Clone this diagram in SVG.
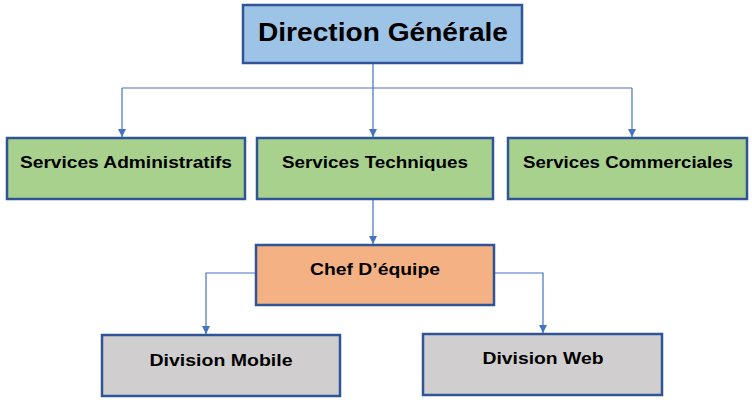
<svg xmlns="http://www.w3.org/2000/svg" width="752" height="400" viewBox="0 0 752 400">
<style>
.box{stroke:#2F5597;stroke-width:2.5}
.t{font-family:"Liberation Sans",Arial,sans-serif;font-weight:bold;fill:#000;text-anchor:middle}
.c{fill:none;stroke:#4472C4;stroke-width:1.2}
</style>
<defs>
<marker id="ah" viewBox="0 0 10 10" refX="10" refY="5" markerWidth="8" markerHeight="8" markerUnits="userSpaceOnUse" orient="auto">
<path d="M0,0 L10,5 L0,10 Z" fill="#4472C4"/>
</marker>
</defs>
<rect width="752" height="400" fill="#fff"/>
<g id="connectors">
<path class="c" d="M373,63 V137" marker-end="url(#ah)"/>
<path class="c" d="M122,88 H632"/>
<path class="c" d="M122,88 V137" marker-end="url(#ah)"/>
<path class="c" d="M632,88 V137" marker-end="url(#ah)"/>
<path class="c" d="M373,199 V244" marker-end="url(#ah)"/>
<path class="c" d="M256,273 H206 V334" marker-end="url(#ah)"/>
<path class="c" d="M494,273 H543 V333" marker-end="url(#ah)"/>
</g>
<g id="direction">
<rect class="box" x="243" y="5" width="279" height="58" fill="#9DC3E6"/>
<text class="t" x="383" y="41" font-size="26" textLength="250" lengthAdjust="spacingAndGlyphs">Direction Générale</text>
</g>
<g id="admin">
<rect class="box" x="7" y="138" width="238" height="61" fill="#A9D18E"/>
<text class="t" x="126" y="168" font-size="17" textLength="212" lengthAdjust="spacingAndGlyphs">Services Administratifs</text>
</g>
<g id="tech">
<rect class="box" x="257" y="138" width="236" height="61" fill="#A9D18E"/>
<text class="t" x="375" y="168" font-size="17" textLength="186" lengthAdjust="spacingAndGlyphs">Services Techniques</text>
</g>
<g id="comm">
<rect class="box" x="508" y="138" width="239" height="61" fill="#A9D18E"/>
<text class="t" x="628" y="168" font-size="17" textLength="210" lengthAdjust="spacingAndGlyphs">Services Commerciales</text>
</g>
<g id="chef">
<rect class="box" x="256" y="245" width="238" height="60" fill="#F4B183"/>
<text class="t" x="375" y="275" font-size="17" textLength="130" lengthAdjust="spacingAndGlyphs">Chef D’équipe</text>
</g>
<g id="mobile">
<rect class="box" x="102" y="335" width="238" height="61" fill="#D0CECE"/>
<text class="t" x="221" y="366" font-size="17" textLength="143" lengthAdjust="spacingAndGlyphs">Division Mobile</text>
</g>
<g id="web">
<rect class="box" x="423" y="334" width="239" height="61" fill="#D0CECE"/>
<text class="t" x="543" y="364" font-size="17" textLength="121" lengthAdjust="spacingAndGlyphs">Division Web</text>
</g>
</svg>
